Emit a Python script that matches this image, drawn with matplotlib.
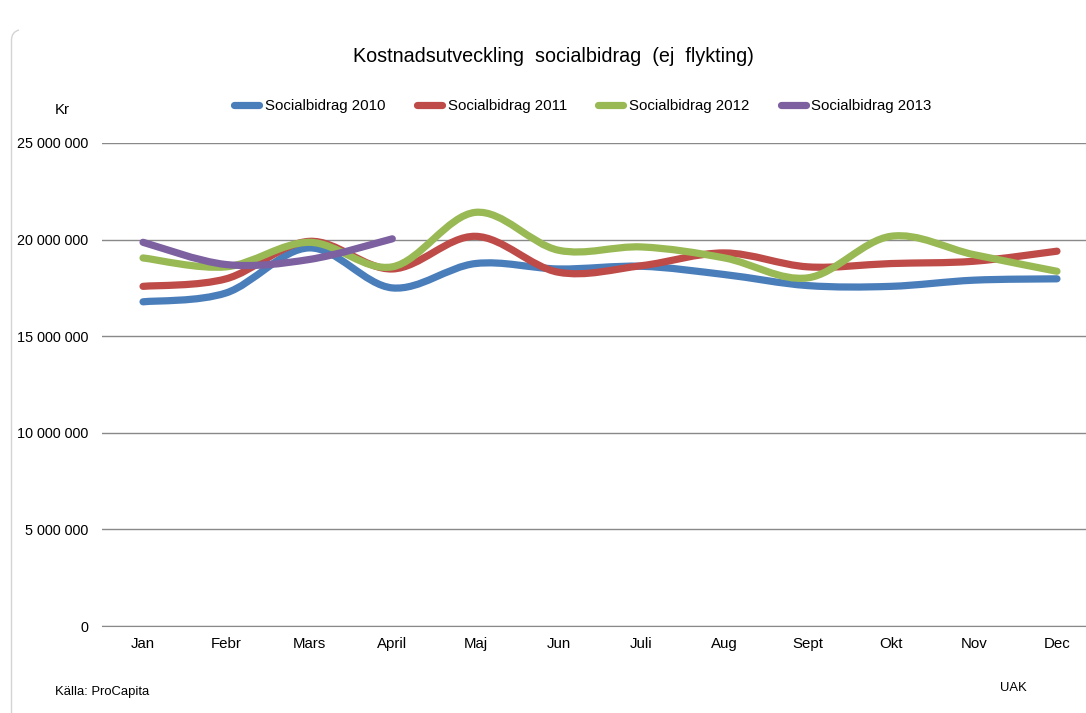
import numpy as np
import matplotlib
matplotlib.use("Agg")
import matplotlib.pyplot as plt
from matplotlib.path import Path
from matplotlib.patches import PathPatch
from matplotlib.lines import Line2D
from matplotlib.ticker import FuncFormatter

plt.rcParams['font.family'] = ['Liberation Sans', 'DejaVu Sans']

# data (Kr, in millions)
months = ["Jan", "Febr", "Mars", "April", "Maj", "Jun", "Juli", "Aug", "Sept", "Okt", "Nov", "Dec"]
sb_2010 = [16.78, 17.24, 19.57, 17.50, 18.76, 18.48, 18.62, 18.19, 17.62, 17.58, 17.90, 17.97]
sb_2011 = [17.58, 17.97, 19.91, 18.48, 20.17, 18.31, 18.65, 19.31, 18.59, 18.76, 18.88, 19.40]
sb_2012 = [19.05, 18.59, 19.86, 18.59, 21.41, 19.45, 19.62, 19.05, 18.02, 20.17, 19.22, 18.36]
sb_2013 = [19.86, 18.71, 18.97, 20.04]
labels = ["Socialbidrag 2010", "Socialbidrag 2011", "Socialbidrag 2012", "Socialbidrag 2013"]
colors = ["#4A7EBB", "#BE4B48", "#98B954", "#7D60A0"]


def smooth_path(xs, ys):
    # excel-like smoothed line: cubic bezier segments (catmull-rom)
    pts = np.column_stack([xs, np.asarray(ys) * 1e6])
    n = len(pts)
    verts = [pts[0]]
    codes = [Path.MOVETO]
    for i in range(n - 1):
        p0 = pts[max(i - 1, 0)]
        p1 = pts[i]
        p2 = pts[i + 1]
        p3 = pts[min(i + 2, n - 1)]
        c1 = p1 + (p2 - p0) / 6.0
        c2 = p2 - (p3 - p1) / 6.0
        verts += [c1, c2, p2]
        codes += [Path.CURVE4] * 3
    return Path(verts, codes)


W, H = 1086, 713
fig = plt.figure(figsize=(W / 100, H / 100), dpi=100)

# left edge of the chart frame with its rounded corner
fx = lambda px: px / W
fy = lambda py: 1 - py / H
edge = Path([(fx(11.5), fy(720)), (fx(11.5), fy(40)), (fx(11.5), fy(32)), (fx(19), fy(30))],
            [Path.MOVETO, Path.LINETO, Path.CURVE3, Path.CURVE3])
fig.patches.append(PathPatch(edge, transform=fig.transFigure, facecolor="none",
                             edgecolor="#D4D4D4", linewidth=1.0))

ax = fig.add_axes([101.5 / W, 1 - 626 / H, 997 / W, (626 - 143) / H])
ax.set_xlim(-0.5, 11.5)
ax.set_ylim(0, 25e6)

series = [sb_2010, sb_2011, sb_2012, sb_2013]
for vals, col in zip(series, colors):
    xs = np.arange(len(vals))
    patch = PathPatch(smooth_path(xs, vals), facecolor="none", edgecolor=col,
                      linewidth=5.2, capstyle="round", joinstyle="round", zorder=3)
    ax.add_patch(patch)

ax.set_yticks(np.arange(0, 25e6 + 1, 5e6))
ax.yaxis.set_major_formatter(FuncFormatter(lambda v, p: f"{int(v):,}".replace(",", " ")))
ax.set_xticks(range(len(months)))
ax.set_xticklabels(months)
ax.grid(axis="y", color="#898989", linewidth=1.0)
ax.set_axisbelow(True)
for s in ["top", "right", "left"]:
    ax.spines[s].set_visible(False)
ax.spines["bottom"].set_color("#898989")
ax.tick_params(axis="both", length=0, colors="#000000")
ax.tick_params(axis="x", pad=8, labelsize=10.8)
ax.tick_params(axis="y", pad=9.5, labelsize=10.4)

fig.text(553 / W, 1 - 57 / H, "Kostnadsutveckling  socialbidrag  (ej  flykting)",
         ha="center", va="center", fontsize=14.2)
fig.text(55 / W, 1 - 110 / H, "Kr", ha="left", va="center", fontsize=10.8)

handles = [Line2D([], [], color=c, linewidth=5.2, solid_capstyle="round") for c in colors]
fig.legend(handles, labels, loc="center", bbox_to_anchor=(583 / W, 1 - 106 / H),
           ncol=4, frameon=False, fontsize=10.8, handlelength=1.67, handletextpad=0.37,
           columnspacing=2.1)

fig.text(55 / W, 1 - 692 / H, "Källa: ProCapita", ha="left", va="center", fontsize=9.4)
fig.text(1000 / W, 1 - 688 / H, "UAK", ha="left", va="center", fontsize=9.4)

fig.savefig("out.png", dpi=100)
